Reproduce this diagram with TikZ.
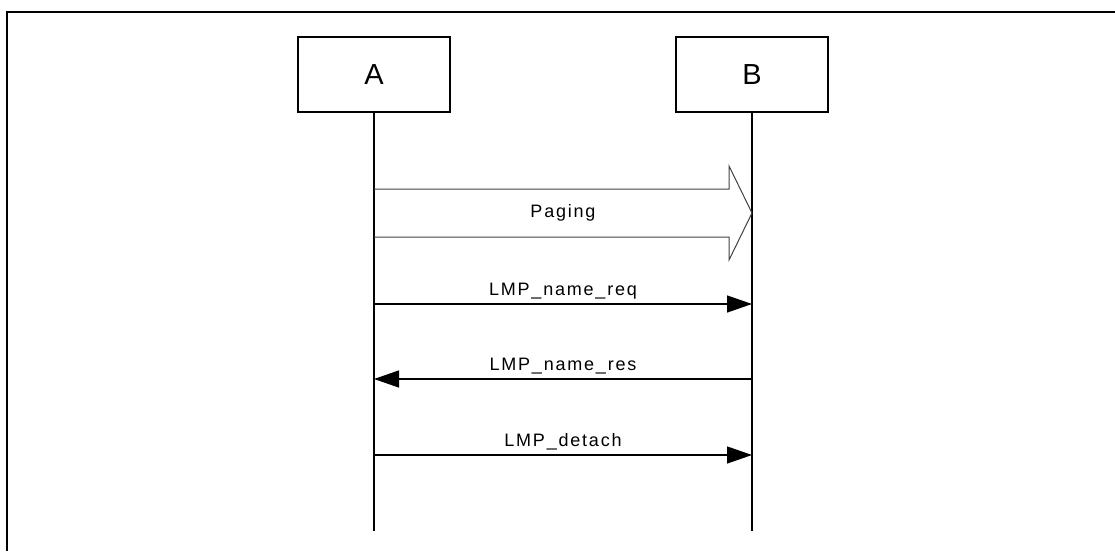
\documentclass[tikz,border=0pt]{standalone}
\usepackage{fontspec}
\setmainfont{Liberation Sans}
\newfontfamily\msgfont{Liberation Sans}[LetterSpace=10]
\usepackage{tikz}
\usetikzlibrary{arrows.meta}
\usetikzlibrary{calc}

\begin{document}
\begin{tikzpicture}[x=1pt,y=-1pt]
        \useasboundingbox (0,0) rectangle (1115,551);
        % frame, only its top and left edges show
        \draw[line width=2pt] (7,551) -- (7,12) -- (1115,12);
        \begin{scope}[node distance=378pt, main box/.style={rectangle,draw,line width=1.3pt,minimum width=152pt,minimum height=75pt,inner sep=0pt,font=\fontsize{29}{32}\selectfont},
                msg/.style={line width=1.3pt,-{Triangle[length=25pt,width=17pt]}},
                msg label/.style={above=1pt,font=\msgfont\fontsize{18}{20}\selectfont}]
        \node[main box] (A) at (374,74.5) {A};
        \node[main box] (B) [right of=A] {B};
        \coordinate (A-end) at (374,531);
        \coordinate (B-end) at (B |- A-end);
        \draw[line width=1.3pt] (A.south) -- (A-end);
        \draw[line width=1.3pt] (B.south) -- (B-end);
        % paging, drawn as a hollow arrow
        \coordinate (pg) at (A |- 0,213);
        \draw[black!75,line width=1pt] ($(pg)+(0,-24)$) -- ($(B |- pg)+(-23,-24)$) -- ($(B |- pg)+(-23,-47)$)
                -- (B |- pg) -- ($(B |- pg)+(-23,47)$) -- ($(B |- pg)+(-23,24)$) -- ($(pg)+(0,24)$);
        \node[font=\msgfont\fontsize{18}{20}\selectfont] (paging) at ($(pg)!0.5!(B |- pg)$) {Paging};
        % messages
        \coordinate (A-1) at (A |- 0,304);
        \coordinate (A-2) at (A |- 0,379);
        \coordinate (A-3) at (A |- 0,455);
        \draw[msg] (A-1) -- node[msg label] {LMP\_name\_req} (B |- A-1);
        \draw[msg] (B |- A-2) -- node[msg label] {LMP\_name\_res} (A-2);
        \draw[msg] (A-3) -- node[msg label] {LMP\_detach} (B |- A-3);
        \end{scope}
\end{tikzpicture}
\end{document}
